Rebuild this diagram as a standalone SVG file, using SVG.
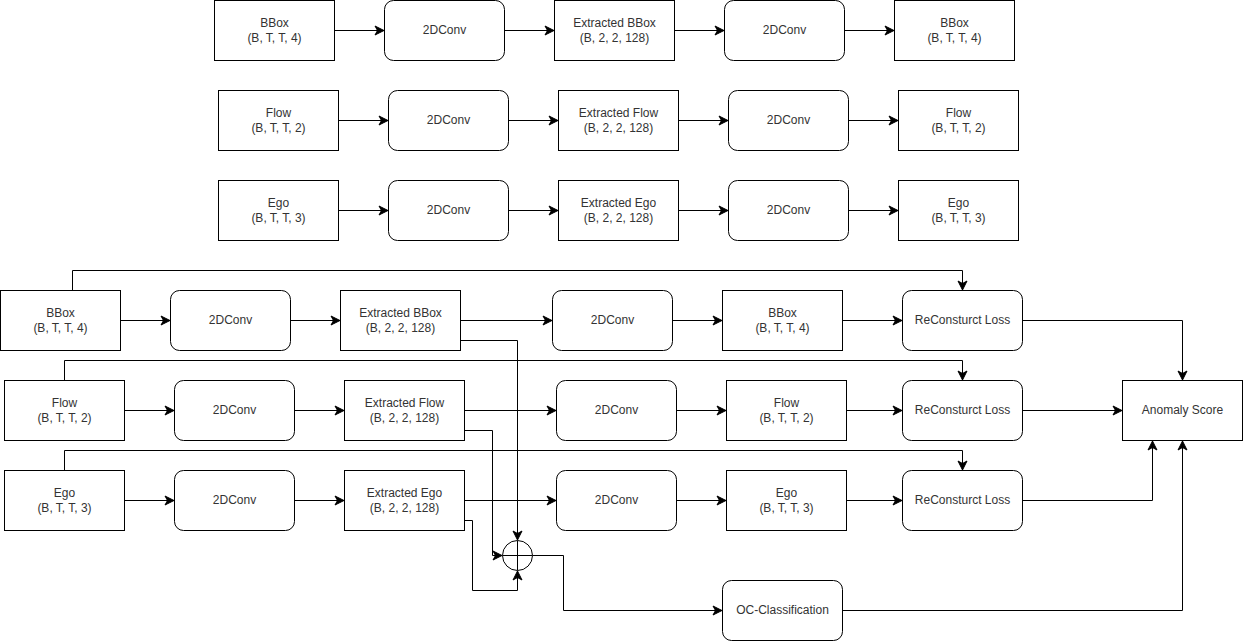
<svg xmlns="http://www.w3.org/2000/svg" width="1243" height="641" viewBox="0 0 1243 641">
<style>
.n rect{fill:#fff;stroke:#000;stroke-width:1}
.n circle{fill:#fff;stroke:#000;stroke-width:1}
text{font-family:"Liberation Sans",Arial,sans-serif;font-size:12px;fill:#333;text-anchor:middle}
.c path{fill:none;stroke:#000;stroke-width:1;marker-end:url(#a)}
.c path.p{marker-end:none}
</style>
<defs>
<marker id="a" markerUnits="userSpaceOnUse" markerWidth="12" markerHeight="12" viewBox="-10 -6 12 12" refX="0" refY="0" orient="auto">
<path d="M0,0 L-9,-4.5 L-6.5,0 L-9,4.5 Z" fill="#000" stroke="#000" stroke-width="1"/>
</marker>
</defs>
<rect width="1243" height="641" fill="#fff"/>
<g class="c" id="connectors">
<path d="M334.5,30.5H384"/><path d="M504.5,30.5H554"/><path d="M674.5,30.5H724"/><path d="M844.5,30.5H894"/>
<path d="M338.5,120.5H388"/><path d="M508.5,120.5H558"/><path d="M678.5,120.5H728"/><path d="M848.5,120.5H898"/>
<path d="M338.5,210.5H388"/><path d="M508.5,210.5H558"/><path d="M678.5,210.5H728"/><path d="M848.5,210.5H898"/>
<path d="M120.5,320.5H170"/><path d="M290.5,320.5H340"/><path d="M460.5,320.5H552"/><path d="M672.5,320.5H722"/><path d="M842.5,320.5H902"/>
<path d="M124.5,410.5H174"/><path d="M294.5,410.5H344"/><path d="M464.5,410.5H556"/><path d="M676.5,410.5H726"/><path d="M846.5,410.5H902"/>
<path d="M124.5,500.5H174"/><path d="M294.5,500.5H344"/><path d="M464.5,500.5H556"/><path d="M676.5,500.5H726"/><path d="M846.5,500.5H902"/>
<path d="M72.5,290V270.5H962.5V290"/>
<path d="M64.5,380V360.5H962.5V380"/>
<path d="M64.5,470V450.5H962.5V470"/>
<path d="M1022.5,320.5H1182.5V380"/>
<path d="M1022.5,410.5H1122"/>
<path d="M1022.5,500.5H1152.5V441"/>
<path d="M842.5,610.5H1182.5V441"/>
<path d="M460.5,340.5H517.5V540"/>
<path d="M464.5,430.5H492.5V555.5H502"/>
<path d="M464.5,520.5H472.5V590.5H517.5V571"/>
<path d="M532.5,555.5H563.5V610.5H722"/>
</g>
<g class="n" id="t1a"><rect x="214.5" y="0.5" width="120" height="60"/><text x="274.5" y="27">BBox</text><text x="274.5" y="42">(B, T, T, 4)</text></g>
<g class="n" id="t1b"><rect x="384.5" y="0.5" width="120" height="60" rx="9"/><text x="444.5" y="34">2DConv</text></g>
<g class="n" id="t1c"><rect x="554.5" y="0.5" width="120" height="60"/><text x="614.5" y="27">Extracted BBox</text><text x="614.5" y="42">(B, 2, 2, 128)</text></g>
<g class="n" id="t1d"><rect x="724.5" y="0.5" width="120" height="60" rx="9"/><text x="784.5" y="34">2DConv</text></g>
<g class="n" id="t1e"><rect x="894.5" y="0.5" width="120" height="60"/><text x="954.5" y="27">BBox</text><text x="954.5" y="42">(B, T, T, 4)</text></g>
<g class="n" id="t2a"><rect x="218.5" y="90.5" width="120" height="60"/><text x="278.5" y="117">Flow</text><text x="278.5" y="132">(B, T, T, 2)</text></g>
<g class="n" id="t2b"><rect x="388.5" y="90.5" width="120" height="60" rx="9"/><text x="448.5" y="124">2DConv</text></g>
<g class="n" id="t2c"><rect x="558.5" y="90.5" width="120" height="60"/><text x="618.5" y="117">Extracted Flow</text><text x="618.5" y="132">(B, 2, 2, 128)</text></g>
<g class="n" id="t2d"><rect x="728.5" y="90.5" width="120" height="60" rx="9"/><text x="788.5" y="124">2DConv</text></g>
<g class="n" id="t2e"><rect x="898.5" y="90.5" width="120" height="60"/><text x="958.5" y="117">Flow</text><text x="958.5" y="132">(B, T, T, 2)</text></g>
<g class="n" id="t3a"><rect x="218.5" y="180.5" width="120" height="60"/><text x="278.5" y="207">Ego</text><text x="278.5" y="222">(B, T, T, 3)</text></g>
<g class="n" id="t3b"><rect x="388.5" y="180.5" width="120" height="60" rx="9"/><text x="448.5" y="214">2DConv</text></g>
<g class="n" id="t3c"><rect x="558.5" y="180.5" width="120" height="60"/><text x="618.5" y="207">Extracted Ego</text><text x="618.5" y="222">(B, 2, 2, 128)</text></g>
<g class="n" id="t3d"><rect x="728.5" y="180.5" width="120" height="60" rx="9"/><text x="788.5" y="214">2DConv</text></g>
<g class="n" id="t3e"><rect x="898.5" y="180.5" width="120" height="60"/><text x="958.5" y="207">Ego</text><text x="958.5" y="222">(B, T, T, 3)</text></g>
<g class="n" id="aA"><rect x="0.5" y="290.5" width="120" height="60"/><text x="60.5" y="317">BBox</text><text x="60.5" y="332">(B, T, T, 4)</text></g>
<g class="n" id="aB"><rect x="170.5" y="290.5" width="120" height="60" rx="9"/><text x="230.5" y="324">2DConv</text></g>
<g class="n" id="aC"><rect x="340.5" y="290.5" width="120" height="60"/><text x="400.5" y="317">Extracted BBox</text><text x="400.5" y="332">(B, 2, 2, 128)</text></g>
<g class="n" id="aD"><rect x="552.5" y="290.5" width="120" height="60" rx="9"/><text x="612.5" y="324">2DConv</text></g>
<g class="n" id="aE"><rect x="722.5" y="290.5" width="120" height="60"/><text x="782.5" y="317">BBox</text><text x="782.5" y="332">(B, T, T, 4)</text></g>
<g class="n" id="aF"><rect x="902.5" y="290.5" width="120" height="60" rx="9"/><text x="962.5" y="324">ReConsturct Loss</text></g>
<g class="n" id="bA"><rect x="4.5" y="380.5" width="120" height="60"/><text x="64.5" y="407">Flow</text><text x="64.5" y="422">(B, T, T, 2)</text></g>
<g class="n" id="bB"><rect x="174.5" y="380.5" width="120" height="60" rx="9"/><text x="234.5" y="414">2DConv</text></g>
<g class="n" id="bC"><rect x="344.5" y="380.5" width="120" height="60"/><text x="404.5" y="407">Extracted Flow</text><text x="404.5" y="422">(B, 2, 2, 128)</text></g>
<g class="n" id="bD"><rect x="556.5" y="380.5" width="120" height="60" rx="9"/><text x="616.5" y="414">2DConv</text></g>
<g class="n" id="bE"><rect x="726.5" y="380.5" width="120" height="60"/><text x="786.5" y="407">Flow</text><text x="786.5" y="422">(B, T, T, 2)</text></g>
<g class="n" id="bF"><rect x="902.5" y="380.5" width="120" height="60" rx="9"/><text x="962.5" y="414">ReConsturct Loss</text></g>
<g class="n" id="cA"><rect x="4.5" y="470.5" width="120" height="60"/><text x="64.5" y="497">Ego</text><text x="64.5" y="512">(B, T, T, 3)</text></g>
<g class="n" id="cB"><rect x="174.5" y="470.5" width="120" height="60" rx="9"/><text x="234.5" y="504">2DConv</text></g>
<g class="n" id="cC"><rect x="344.5" y="470.5" width="120" height="60"/><text x="404.5" y="497">Extracted Ego</text><text x="404.5" y="512">(B, 2, 2, 128)</text></g>
<g class="n" id="cD"><rect x="556.5" y="470.5" width="120" height="60" rx="9"/><text x="616.5" y="504">2DConv</text></g>
<g class="n" id="cE"><rect x="726.5" y="470.5" width="120" height="60"/><text x="786.5" y="497">Ego</text><text x="786.5" y="512">(B, T, T, 3)</text></g>
<g class="n" id="cF"><rect x="902.5" y="470.5" width="120" height="60" rx="9"/><text x="962.5" y="504">ReConsturct Loss</text></g>
<g class="n" id="score"><rect x="1122.5" y="380.5" width="120" height="60"/><text x="1182.5" y="414">Anomaly Score</text></g>
<g class="n" id="occ"><rect x="722.5" y="580.5" width="120" height="60" rx="9"/><text x="782.5" y="614">OC-Classification</text></g>
<g class="n" id="sum"><circle cx="517.5" cy="555.5" r="15"/><path d="M502.5,555.5H532.5M517.5,540.5V570.5" stroke="#000" fill="none"/></g>
</svg>
